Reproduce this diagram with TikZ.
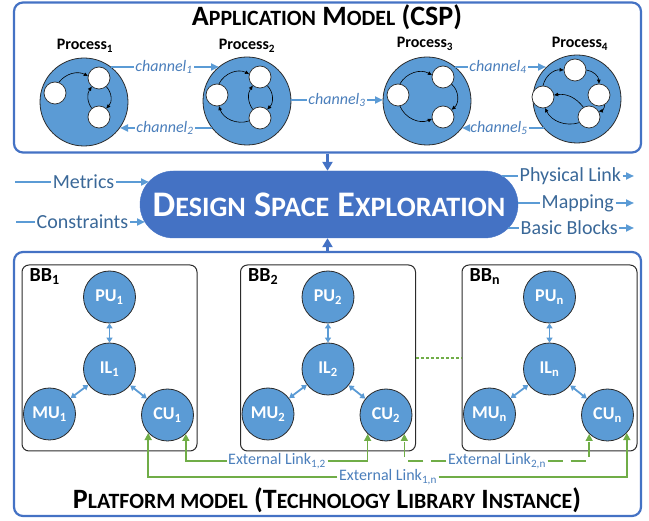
\documentclass[tikz,border=0pt]{standalone}
\usepackage{fontspec}
\setmainfont{Carlito}
\usetikzlibrary{arrows.meta,shapes.misc}

\definecolor{frameblue}{HTML}{4472C4}
\definecolor{fillblue}{HTML}{5B9BD5}
\definecolor{txtblue}{HTML}{4A7EBB}
\definecolor{darkblue}{HTML}{3A6898}
\definecolor{linkgreen}{HTML}{70AD47}
\definecolor{ringgray}{HTML}{2B2B2B}

% reduced capitals for the lower-case part of a small-caps heading
\makeatletter
\newcommand\lowcaps[1]{{\fontsize{\fpeval{0.78*\f@size}}{\f@baselineskip}\selectfont #1}}
\makeatother

\begin{document}
\begin{tikzpicture}[x=1pt,y=-1pt,
  boxframe/.style={draw=frameblue, line width=2.2pt, rounded corners=9pt, inner sep=0pt},
  bbframe/.style={draw=ringgray, line width=1pt, rounded corners=7pt, inner sep=0pt,
    minimum width=175pt, minimum height=186pt},
  proccircle/.style={circle, fill=fillblue, draw=ringgray, line width=0.8pt,
    minimum size=88pt, inner sep=0pt},
  taskcircle/.style={circle, fill=white, draw=ringgray, line width=0.7pt,
    minimum size=22pt, inner sep=0pt},
  taskflow/.style={line width=0.6pt, -{Triangle[length=4pt,width=3.5pt]}},
  hwunit/.style={circle, fill=fillblue, draw=ringgray, line width=0.8pt,
    minimum size=52pt, inner sep=0pt, text=white, font=\bfseries\fontsize{18}{20}\selectfont},
  hwlink/.style={draw=fillblue, line width=1.8pt,
    {Triangle[length=5pt,width=6pt]}-{Triangle[length=5pt,width=6pt]}},
  chan/.style={draw=fillblue, line width=2pt},
  chantip/.style={chan, -{Triangle[length=8pt,width=7pt]}},
  chanlabel/.style={text=txtblue, font=\itshape\fontsize{16}{18}\selectfont, inner sep=1.5pt},
  proclabel/.style={font=\bfseries\fontsize{16}{18}\selectfont},
  flowlabel/.style={text=darkblue, font=\fontsize{20}{22}\selectfont, inner sep=1.5pt},
  bigarrow/.style={draw=frameblue, line width=2.5pt, -{Triangle[length=9pt,width=10pt]}},
  glink/.style={draw=linkgreen, line width=1.5pt},
  gtip/.style={glink, -{Triangle[length=7pt,width=7pt]}},
  gdash/.style={dash pattern=on 15pt off 8pt},
  extlabel/.style={text=txtblue, font=\fontsize{16}{18}\selectfont, inner sep=1.5pt},
  bblabel/.style={font=\bfseries\fontsize{20}{22}\selectfont, inner sep=0pt, anchor=north west},
  headline/.style={font=\bfseries\fontsize{28}{30}\selectfont}
]
\useasboundingbox (0,0) rectangle (649,521);

% ---------------- application model ----------------
\node[boxframe, minimum width=627pt, minimum height=150pt] (app) at (327.5,77.5) {};
\node[headline] (apptitle) at (327,17) {A\lowcaps{PPLICATION} M\lowcaps{ODEL} (CSP)};

\node[proccircle] (p1) at (84,102) {};
\node[proccircle] (p2) at (247,101) {};
\node[proccircle] (p3) at (427,101) {};
\node[proccircle] (p4) at (577,99) {};

\node[proclabel] (pl1) at (85,46) {Process\textsubscript{1}};
\node[proclabel] (pl2) at (247,46) {Process\textsubscript{2}};
\node[proclabel] (pl3) at (425,44) {Process\textsubscript{3}};
\node[proclabel] (pl4) at (580,44) {Process\textsubscript{4}};

% tasks inside each process
\node[taskcircle] (p1l) at (55,93) {};
\node[taskcircle] (p1t) at (99,78) {};
\node[taskcircle] (p1b) at (99,117) {};
\draw[taskflow] (p1l.70) to[bend left=40] (p1t.170);
\draw[taskflow] (p1t.-50) to[bend left=45] (p1b.50);
\draw[taskflow] (p1b.130) to[bend left=35] (p1t.-130);

\node[taskcircle] (p2l) at (217,95) {};
\node[taskcircle] (p2t) at (260,77) {};
\node[taskcircle] (p2b) at (260,118) {};
\draw[taskflow] (p2l.80) to[bend left=45] (p2t.165);
\draw[taskflow] (p2t.-50) to[bend left=45] (p2b.50);
\draw[taskflow] (p2b.130) to[bend left=35] (p2t.-130);
\draw[taskflow] (p2b.195) to[bend left=45] (p2l.-80);

\node[taskcircle] (p3l) at (398,95) {};
\node[taskcircle] (p3t) at (443,77) {};
\node[taskcircle] (p3b) at (443,117) {};
\draw[taskflow] (p3l.80) to[bend left=45] (p3t.170);
\draw[taskflow] (p3t.-40) to[bend left=50] (p3b.40);
\draw[taskflow] (p3l.-80) to[bend right=45] (p3b.190);

\node[taskcircle] (p4t) at (575,70) {};
\node[taskcircle] (p4r) at (599,95) {};
\node[taskcircle] (p4b) at (589,117) {};
\node[taskcircle] (p4l) at (543,97) {};
\draw[taskflow] (p4l.90) to[bend left=40] (p4t.180);
\draw[taskflow] (p4t.0) to[bend left=40] (p4r.90);
\draw[taskflow] (p4r.-60) to[bend left=40] (p4b.30);
\draw[taskflow] (p4b.-150) to[bend left=40] (p4l.-80);
\draw[taskflow] (p4b.120) to[bend right=30] (p4l.10);

% channels
\coordinate (c1s) at (111,67);  \coordinate (c1e) at (219,67);
\coordinate (c2s) at (212,128); \coordinate (c2e) at (120,128);
\coordinate (c3s) at (291,100); \coordinate (c3e) at (383,100);
\coordinate (c4s) at (455,67);  \coordinate (c4e) at (546,67);
\coordinate (c5s) at (544,128); \coordinate (c5e) at (462,128);
\node[chanlabel] (ch1) at (164,67) {channel\textsubscript{1}};
\node[chanlabel] (ch2) at (165,128) {channel\textsubscript{2}};
\node[chanlabel] (ch3) at (337,100) {channel\textsubscript{3}};
\node[chanlabel] (ch4) at (498,67) {channel\textsubscript{4}};
\node[chanlabel] (ch5) at (499,128) {channel\textsubscript{5}};
\draw[chan] (c1s) -- (ch1.west);  \draw[chantip] (ch1.east) -- (c1e);
\draw[chan] (c2s) -- (ch2.east);  \draw[chantip] (ch2.west) -- (c2e);
\draw[chan] (c3s) -- (ch3.west);  \draw[chantip] (ch3.east) -- (c3e);
\draw[chan] (c4s) -- (ch4.west);  \draw[chantip] (ch4.east) -- (c4e);
\draw[chan] (c5s) -- (ch5.east);  \draw[chantip] (ch5.west) -- (c5e);

% ---------------- design space exploration ----------------
\node[rounded rectangle, fill=frameblue, draw=frameblue, minimum width=378pt, minimum height=67pt,
  inner sep=0pt, text=white, font=\bfseries\fontsize{36}{38}\selectfont]
  (dse) at (329,204.5) {D\lowcaps{ESIGN} S\lowcaps{PACE} E\lowcaps{XPLORATION}};

\coordinate (metin) at (15,182);  \coordinate (metend) at (149,182);
\coordinate (conin) at (16,222);  \coordinate (conend) at (145,222);
\coordinate (physin) at (502,176); \coordinate (physend) at (634,176);
\coordinate (mapin) at (518,203);  \coordinate (mapend) at (634,203);
\coordinate (bbkin) at (508,228);  \coordinate (bbkend) at (634,228);
\node[flowlabel, anchor=east] (metrics) at (116,182) {Metrics};
\node[flowlabel, anchor=east] (constr) at (130,222) {Constraints};
\node[flowlabel, anchor=west] (phys) at (518,176) {Physical Link};
\node[flowlabel, anchor=west] (mapping) at (540,203) {Mapping};
\node[flowlabel, anchor=west] (bblocks) at (519,228) {Basic Blocks};
\draw[chan] (metin) -- (metrics.west);  \draw[chantip] (metrics.east) -- (metend);
\draw[chan] (conin) -- (constr.west);   \draw[chantip] (constr.east) -- (conend);
\draw[chan] (physin) -- (phys.west);    \draw[chantip] (phys.east) -- (physend);
\draw[chan] (mapin) -- (mapping.west);  \draw[chantip] (mapping.east) -- (mapend);
\draw[chan] (bbkin) -- (bblocks.west);  \draw[chantip] (bblocks.east) -- (bbkend);

% ---------------- platform model ----------------
\node[boxframe, minimum width=627pt, minimum height=264pt] (plat) at (327.5,384) {};
\node[headline] (plattitle) at (327,500)
  {P\lowcaps{LATFORM MODEL} (T\lowcaps{ECHNOLOGY} L\lowcaps{IBRARY} I\lowcaps{NSTANCE})};

\draw[bigarrow] (app.south) -- (app.south |- dse.north);
\draw[bigarrow] (plat.north) -- (plat.north |- dse.south);

\foreach \i/\cx in {1/109.5, 2/328, n/549.5} {
  \node[bbframe] (bb\i) at (\cx,358) {};
  \node[bblabel, xshift=8pt, yshift=-4pt] (bbl\i) at (bb\i.north west) {BB\textsubscript{\i}};
  \node[hwunit] (pu\i) at (\cx,297) {PU\textsubscript{\i}};
  \node[hwunit] (il\i) at (\cx,369) {IL\textsubscript{\i}};
  \node[hwunit] (mu\i) at (\cx-60,414) {MU\textsubscript{\i}};
  \node[hwunit] (cu\i) at (\cx+58,415) {CU\textsubscript{\i}};
  \draw[hwlink] (pu\i) -- (il\i);
  \draw[hwlink] (il\i) -- (mu\i);
  \draw[hwlink] (il\i) -- (cu\i);
}

\draw[glink, line width=1.2pt, dash pattern=on 3pt off 2pt] (bb2.east) -- (bbn.west);

% external links
\node[extlabel] (ext12) at (277,461) {External Link\textsubscript{1,2}};
\node[extlabel] (ext2n) at (497,461) {External Link\textsubscript{2,n}};
\node[extlabel] (ext1n) at (388,477) {External Link\textsubscript{1,n}};
\draw[gtip] (ext12.west) -| (cu1.-46);
\draw[gtip] (ext12.east) -| (cu2.-134);
\draw[gtip] (ext1n.west) -| (cu1.-137);
\draw[gtip] (ext1n.east) -| (cun.-43);
\draw[gtip, gdash] (ext2n.west) -| (cu2.-46);
\draw[gtip, gdash] (ext2n.east) -| (cun.-134);
\end{tikzpicture}
\end{document}
